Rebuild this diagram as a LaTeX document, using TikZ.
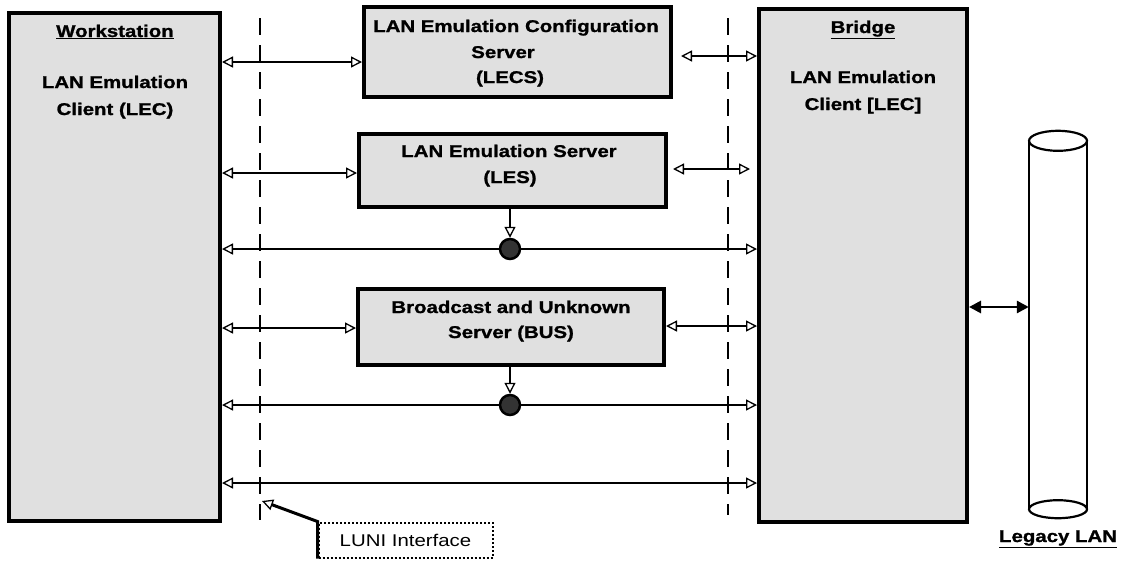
\documentclass[tikz,border=0pt]{standalone}
\usepackage{fontspec}
\setmainfont{Liberation Sans}[FakeStretch=1.2, BoldFeatures={FakeBold=1.2}]
\usetikzlibrary{arrows.meta}
\begin{document}
\begin{tikzpicture}[x=1pt,y=-1pt,
  box/.style={draw, line width=4pt, fill=black!12, inner sep=0},
  lbl/.style={font=\fontsize{17}{20}\selectfont\bfseries, anchor=base, inner sep=0},
  otip/.tip={Triangle[length=11pt,width=11pt,fill=white,line width=1.3pt]},
  btip/.tip={Triangle[length=12pt,width=12pt]},
  conn/.style={line width=2.4pt},
  dashline/.style={line width=2.6pt, dash pattern=on 17pt off 10pt},
  junction/.style={circle, draw, line width=2.5pt, fill=black!80, minimum size=20pt, inner sep=0},
  cyl/.style={line width=2.2pt}]
\fill[white] (0,0) rectangle (1123,560);
\useasboundingbox (0,0) rectangle (1123,560);

% boxes
\node[box, minimum width=211pt, minimum height=508pt] (ws) at (114.5,267) {};
\node[box, minimum width=208pt, minimum height=513pt] (bridge) at (863,265.5) {};
\node[box, minimum width=307pt, minimum height=90pt] (lecs) at (517.5,52) {};
\node[box, minimum width=307pt, minimum height=73pt] (les) at (512.5,170.5) {};
\node[box, minimum width=306pt, minimum height=76pt] (bus) at (511,327) {};

% texts
\node[lbl] (wst) at (115,37) {\underline{Workstation}};
\node[lbl] (wsa) at (115,88) {LAN Emulation};
\node[lbl] (wsb) at (115,115) {Client (LEC)};
\node[lbl] (lecsa) at (516,32) {LAN Emulation Configuration};
\node[lbl] (lecsb) at (503,58) {Server};
\node[lbl] (lecsc) at (510,83) {(LECS)};
\node[lbl] (brt) at (863,33) {\underline{Bridge}};
\node[lbl] (bra) at (863,83) {LAN Emulation};
\node[lbl] (brb) at (863,110) {Client [LEC]};
\node[lbl] (lesa) at (509,157) {LAN Emulation Server};
\node[lbl] (lesb) at (510,183) {(LES)};
\node[lbl] (busa) at (511,313) {Broadcast and Unknown};
\node[lbl] (busb) at (511,338) {Server (BUS)};

% dashed LUNI lines
\coordinate (dl1) at (260,18);
\coordinate (dl2) at (260,520);
\coordinate (dr1) at (728,18);
\coordinate (dr2) at (728,515);
\draw[dashline] (dl1) -- (dl2);
\draw[dashline] (dr1) -- (dr2);

% row coordinates
\coordinate (r1) at (0,62);
\coordinate (r1b) at (0,56);
\coordinate (r2) at (0,173);
\coordinate (r2b) at (0,169);
\coordinate (r3) at (0,249);
\coordinate (r4) at (0,328);
\coordinate (r4b) at (0,326);
\coordinate (r5) at (0,405);
\coordinate (r6) at (0,483);
\coordinate (r7) at (0,307);

% connectors
\draw[conn, otip-otip] (ws.east |- r1) -- (lecs.west |- r1);
\draw[conn, otip-otip, shorten <=8pt] (lecs.east |- r1b) -- (bridge.west |- r1b);
\draw[conn, otip-otip] (ws.east |- r2) -- (les.west |- r2);
\draw[conn, otip-otip, shorten <=5pt, shorten >=7pt] (les.east |- r2b) -- (bridge.west |- r2b);
\draw[conn, otip-otip] (ws.east |- r3) -- (bridge.west |- r3);
\draw[conn, otip-otip] (ws.east |- r4) -- (bus.west |- r4);
\draw[conn, otip-otip] (bus.east |- r4b) -- (bridge.west |- r4b);
\draw[conn, otip-otip] (ws.east |- r5) -- (bridge.west |- r5);
\draw[conn, otip-otip] (ws.east |- r6) -- (bridge.west |- r6);

\node[junction] (c1) at (510,249) {};
\node[junction] (c2) at (510,405) {};
\draw[conn, -otip] (les.south -| c1) -- (c1.north);
\draw[conn, -otip] (bus.south -| c2) -- (c2.north);

% LUNI callout
\node[draw, line width=2pt, dash pattern=on 2pt off 2pt, minimum width=174pt, minimum height=35pt, inner sep=0,
      font=\fontsize{17}{20}\selectfont] (luni) at (405.5,540) {LUNI Interface};
\coordinate (lunitip) at (262,501);
\draw[line width=3pt, -otip] (luni.south west) -- (luni.north west) -- (lunitip);

% Legacy LAN cylinder
\node[inner sep=0, minimum width=58pt, minimum height=368pt] (lan) at (1058,325) {};
\draw[cyl] (lan.north west) -- (lan.south west) (lan.north east) -- (lan.south east);
\draw[cyl, fill=white] (lan.north) ellipse [x radius=29pt, y radius=10pt];
\draw[cyl] (lan.south) ellipse [x radius=29pt, y radius=9pt];
\node[lbl] (lant) at (1058,542) {\underline{Legacy LAN}};
\draw[line width=2.8pt, btip-btip] (bridge.east |- r7) -- (lan.west |- r7);
\end{tikzpicture}
\end{document}
